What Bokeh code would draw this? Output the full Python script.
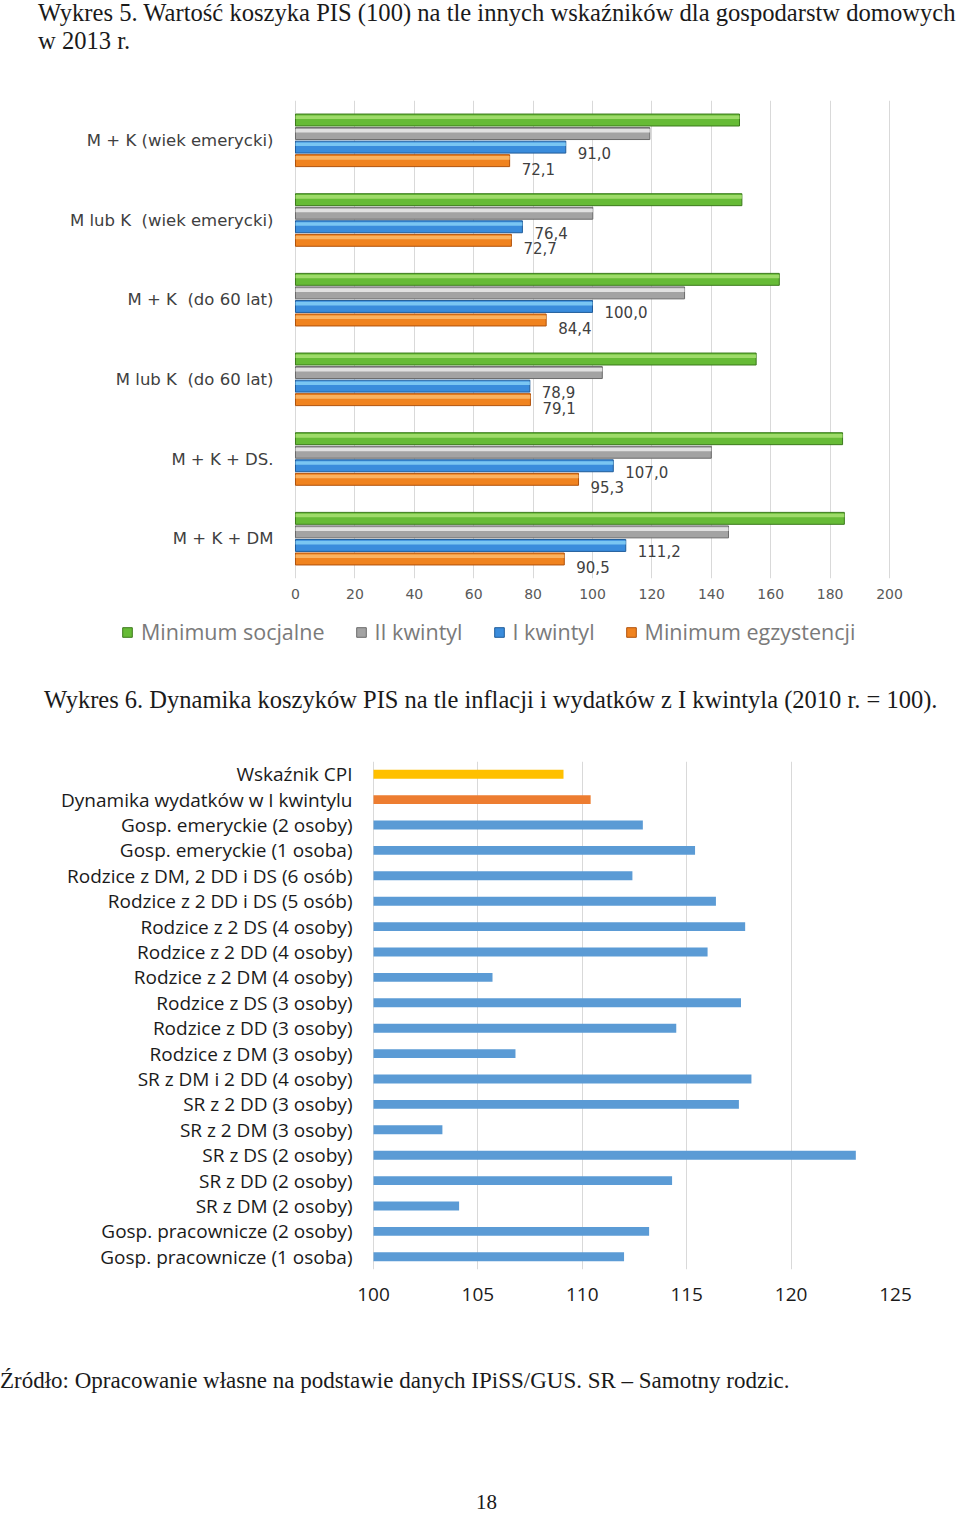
from bokeh.plotting import figure
from bokeh.models import (ColumnDataSource, FactorRange, Range1d, Legend, LegendItem,
                          FixedTicker, Div)
from bokeh.transform import dodge
from bokeh.layouts import column
from bokeh.core.properties import value
from bokeh.embed import file_html
from bokeh.resources import INLINE

# ---------------- data: Wykres 5 ----------------
categories1 = ["M + K (wiek emerycki)", "M lub K \u00a0(wiek emerycki)", "M + K \u00a0(do 60 lat)",
               "M lub K \u00a0(do 60 lat)", "M + K + DS.", "M + K + DM"]
minimum_socjalne = [149.5, 150.3, 162.9, 155.1, 184.2, 184.8]
ii_kwintyl = [119.3, 100.1, 131.0, 103.3, 140.0, 145.8]
i_kwintyl = [91.0, 76.4, 100.0, 78.9, 107.0, 111.2]
minimum_egzystencji = [72.1, 72.7, 84.4, 79.1, 95.3, 90.5]
series1_names = ["Minimum socjalne", "II kwintyl", "I kwintyl", "Minimum egzystencji"]
ticks1 = [0, 20, 40, 60, 80, 100, 120, 140, 160, 180, 200]

# ---------------- data: Wykres 6 ----------------
categories2 = ["Wskaźnik CPI", "Dynamika wydatków w I kwintylu", "Gosp. emeryckie (2 osoby)",
               "Gosp. emeryckie (1 osoba)", "Rodzice z DM, 2 DD i DS (6 osób)",
               "Rodzice z 2 DD i DS (5 osób)", "Rodzice z 2 DS (4 osoby)", "Rodzice z 2 DD (4 osoby)",
               "Rodzice z 2 DM (4 osoby)", "Rodzice z DS (3 osoby)", "Rodzice z DD (3 osoby)",
               "Rodzice z DM (3 osoby)", "SR z DM i 2 DD (4 osoby)", "SR z 2 DD (3 osoby)",
               "SR z 2 DM (3 osoby)", "SR z DS (2 osoby)", "SR z DD (2 osoby)", "SR z DM (2 osoby)",
               "Gosp. pracownicze (2 osoby)", "Gosp. pracownicze (1 osoba)"]
values2 = [109.1, 110.4, 112.9, 115.4, 112.4, 116.4, 117.8, 116.0, 105.7, 117.6,
           114.5, 106.8, 118.1, 117.5, 103.3, 123.1, 114.3, 104.1, 113.2, 112.0]
ticks2 = [100, 105, 110, 115, 120, 125]
BASE2 = 100

# ---------------- texts ----------------
title5 = ["Wykres 5. Wartość koszyka PIS (100) na tle innych wskaźników dla gospodarstw domowych",
          "w 2013 r."]
title6 = "Wykres 6. Dynamika koszyków PIS na tle inflacji i wydatków z I kwintyla (2010 r. = 100)."
source_note = "Źródło: Opracowanie własne na podstawie danych IPiSS/GUS. SR – Samotny rodzic."
page_number = "18"

PAGE_W = 960
BORDER_L = 105   # all figure frames start at page x = 105
BORDER_R = 65    # all figure frames end at page x = 895


def fmt(v):
    return f"{v:.1f}".replace(".", ",")


SERIF_CSS = "font-family:'Liberation Serif',serif; color:#1a1a1a; white-space:nowrap;"


def hide_axis_marks(ax):
    ax.axis_line_color = None
    ax.major_tick_line_color = None
    ax.minor_tick_line_color = None
    ax.major_tick_out = 0
    ax.major_tick_in = 0


# ---------------- heading 1 ----------------
head1 = Div(width=PAGE_W, height=92, margin=0,
            text=(f"<div style=\"{SERIF_CSS} font-size:24.6px; line-height:28px; "
                  f"padding-left:38px; position:relative; top:-1px;\">"
                  f"{title5[0]}<br>{title5[1]}</div>"))

# ---------------- chart 1 ----------------
p1 = figure(width=PAGE_W, height=514, y_range=FactorRange(factors=categories1[::-1]),
            x_range=Range1d(-63.97, 202.02), output_backend="svg", toolbar_location=None,
            min_border_left=BORDER_L, min_border_right=BORDER_R, min_border_top=8,
            min_border_bottom=28)
p1.outline_line_color = None
p1.ygrid.grid_line_color = None
p1.xgrid.ticker = FixedTicker(ticks=ticks1)
p1.xgrid.grid_line_color = "#d9d9d9"
p1.xaxis.ticker = FixedTicker(ticks=ticks1)
hide_axis_marks(p1.xaxis[0])
hide_axis_marks(p1.yaxis[0])
p1.xaxis.major_label_text_font = "DejaVu Sans"
p1.xaxis.major_label_text_font_size = "14px"
p1.xaxis.major_label_text_color = "#595959"
p1.xaxis.major_label_standoff = 10
p1.yaxis.major_label_text_font = "DejaVu Sans"
p1.yaxis.major_label_text_font_size = "16.5px"
p1.yaxis.major_label_text_color = "#404040"
p1.yaxis.major_label_standoff = BORDER_L - 273

src1 = ColumnDataSource(dict(cat=categories1, ms=minimum_socjalne, ii=ii_kwintyl, i=i_kwintyl,
                             me=minimum_egzystencji,
                             i_lbl=[fmt(v) for v in i_kwintyl],
                             me_lbl=[fmt(v) for v in minimum_egzystencji]))

cols1 = ["ms", "ii", "i", "me"]
offsets = [0.255, 0.085, -0.085, -0.255]
base_colors = ["#66bb36", "#a3a3a3", "#3a8cdc", "#f0831f"]
line_colors = ["#3c7a1c", "#6a6a6a", "#1f5c99", "#b0520c"]
light_colors = ["#a8e172", "#ececec", "#86d0f6", "#fbbb6c"]
BAR_H = 0.15

for col, off, bc, lc, hc in zip(cols1, offsets, base_colors, line_colors, light_colors):
    p1.hbar(y=dodge("cat", off, range=p1.y_range), right=col, left=0, height=BAR_H,
            source=src1, fill_color=bc, line_color=lc, line_width=1)
    p1.hbar(y=dodge("cat", off + 0.035, range=p1.y_range), right=col, left=0, height=0.045,
            source=src1, fill_color=hc, line_color=None, fill_alpha=0.85)

p1.text(x="i", y=dodge("cat", -0.085, range=p1.y_range), text="i_lbl", source=src1,
        x_offset=12, y_offset=6, text_baseline="middle", text_font=value("DejaVu Sans"),
        text_font_size="15px", text_color="#404040")
p1.text(x="me", y=dodge("cat", -0.255, range=p1.y_range), text="me_lbl", source=src1,
        x_offset=12, y_offset=8, text_baseline="middle", text_font=value("DejaVu Sans"),
        text_font_size="15px", text_color="#404040")

# ---------------- legend of chart 1 (own strip; its bar renderers are hidden) ----------------
legfig = figure(width=PAGE_W, height=50, x_range=Range1d(0, 200),
                y_range=FactorRange(factors=categories1[::-1]),
                output_backend="svg", toolbar_location=None,
                min_border_left=BORDER_L, min_border_right=BORDER_R, min_border_top=0,
                min_border_bottom=0, x_axis_location=None, y_axis_location=None)
legfig.grid.visible = False
legfig.outline_line_color = None
leg_renderers = [legfig.hbar(y="cat", right=col, left=0, height=BAR_H, source=src1,
                             fill_color=bc, line_color=lc, visible=False)
                 for col, bc, lc in zip(cols1, base_colors, line_colors)]
legend = Legend(items=[LegendItem(label=n, renderers=[r])
                       for n, r in zip(series1_names, leg_renderers)],
                orientation="horizontal", location=(16, 10),
                label_text_font="Open Sans", label_text_font_size="21.5px",
                label_text_color="#7a7a7a", border_line_color=None, background_fill_alpha=0,
                glyph_width=12, glyph_height=12, spacing=30, label_standoff=8,
                padding=0, margin=0)
legfig.add_layout(legend)

# ---------------- heading 2 ----------------
head2 = Div(width=PAGE_W, height=84, margin=0,
            text=(f"<div style=\"{SERIF_CSS} font-size:24.5px; line-height:28px; "
                  f"padding-left:44px; padding-top:30px;\">{title6}</div>"))

# ---------------- chart 2 ----------------
special_colors = {"Wskaźnik CPI": "#ffc000", "Dynamika wydatków w I kwintylu": "#ed7d31"}
default_color = "#5b9bd5"
src2 = ColumnDataSource(dict(cat=categories2, val=values2,
                             color=[special_colors.get(c, default_color) for c in categories2]))

p2 = figure(width=PAGE_W, height=570, y_range=FactorRange(factors=categories2[::-1]),
            x_range=Range1d(87.165, 125), output_backend="svg", toolbar_location=None,
            min_border_left=BORDER_L, min_border_right=BORDER_R, min_border_top=21,
            min_border_bottom=41)
p2.outline_line_color = None
p2.ygrid.grid_line_color = None
p2.xgrid.ticker = FixedTicker(ticks=ticks2)
p2.xgrid.grid_line_color = "#d9d9d9"
p2.xaxis.ticker = FixedTicker(ticks=ticks2)
hide_axis_marks(p2.xaxis[0])
hide_axis_marks(p2.yaxis[0])
p2.xaxis.major_label_text_font = "Open Sans"
p2.xaxis.major_label_text_font_size = "19px"
p2.xaxis.major_label_text_color = "#1a1a1a"
p2.xaxis.major_label_standoff = 18
p2.yaxis.major_label_text_font = "Open Sans"
p2.yaxis.major_label_text_font_size = "19px"
p2.yaxis.major_label_text_color = "#1a1a1a"
p2.yaxis.major_label_standoff = BORDER_L - 352

p2.hbar(y="cat", left=BASE2, right="val", height=0.35, source=src2,
        fill_color="color", line_color=None)

# ---------------- footer ----------------
foot = Div(width=PAGE_W, height=204, margin=0,
           text=(f"<div style=\"{SERIF_CSS} font-size:23px; line-height:28px; "
                 f"padding-top:57px;\">{source_note}</div>"
                 f"<div style=\"{SERIF_CSS} font-size:21px; line-height:20px; "
                 f"padding-left:476px; padding-top:97px;\">{page_number}</div>"))

page = column(head1, p1, legfig, head2, p2, foot, spacing=0)
open("out.html", "w").write(file_html(page, INLINE))
